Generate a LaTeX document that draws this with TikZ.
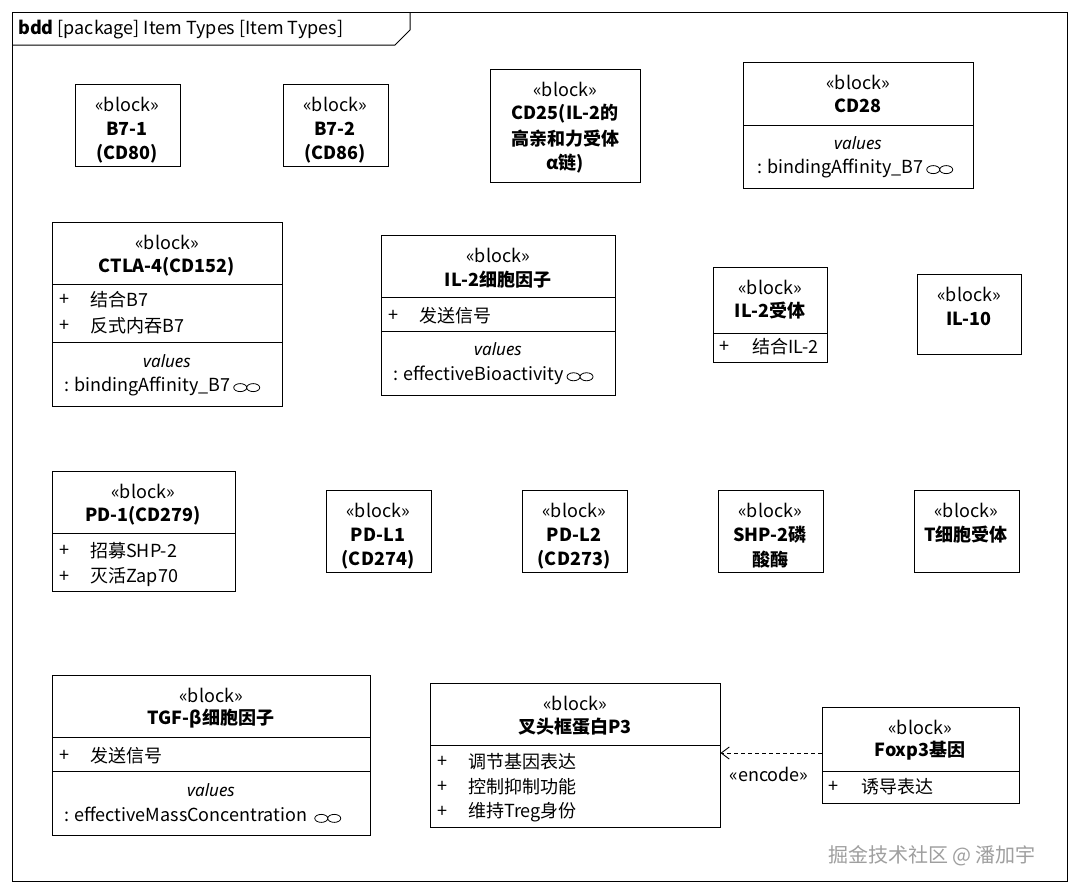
\documentclass[tikz,border=0pt]{standalone}
\usepackage{fontspec}
\setmainfont{Noto Sans CJK SC}
\newfontfamily\latinit{Noto Sans}[UprightFont=* Italic]
\usetikzlibrary{fit,arrows.meta}
\newcommand\oo{\,\tikz[baseline=-0.35ex,x=1pt,y=1pt]{\draw[line width=0.8pt] (6.5,0) ellipse[x radius=6.5,y radius=4] (19.5,0) ellipse[x radius=6.5,y radius=4];}}
\begin{document}
\begin{tikzpicture}[x=1pt,y=-1pt,
  box/.style={draw,line width=1pt,inner sep=0pt},
  t/.style={font=\fontsize{18}{20}\selectfont,inner sep=0pt},
  b/.style={t,font=\fontsize{18}{20}\selectfont\bfseries},
  it/.style={t,font=\fontsize{17}{20}\selectfont\latinit},
  dl/.style={line width=1pt}]
\useasboundingbox (0,0) rectangle (1080,894);
\fill[white] (0,0) rectangle (1080,894);
\draw[line width=1pt] (12,12) rectangle (1067,881);
\draw[line width=1pt] (12,45) -- (395,45) -- (410,30) -- (410,12);
\node[t,anchor=west] (hdr) at (18,30) {\textbf{bdd} [package] Item Types [Item Types]};
% B7-1
\node[box,fit={(75,84) (180,166)}] (b71) {};
\node[t] at (127,104) {«block»};\node[b] at (127,129) {B7-1};\node[b] at (127,154) {(CD80)};
\node[box,fit={(283,84) (388,166)}] (b72) {};
\node[t] at (335,104) {«block»};\node[b] at (335,129) {B7-2};\node[b] at (335,154) {(CD86)};
% CD25
\node[box,fit={(490,69) (640,182)}] (cd25) {};
\node[t] at (565,89) {«block»};\node[b] at (565,114) {CD25(IL-2的};\node[b] at (565,139) {高亲和力受体};\node[b] at (565,164) {α链)};
% CD28
\node[box,fit={(743,62) (973,188)}] (cd28) {};
\node[t] at (858,82) {«block»};\node[b] at (858,106) {CD28};
\draw[dl] (743,125) -- (973,125);
\node[it] at (858,143) {values};\node[t,anchor=west] at (757,168) {: bindingAffinity\_B7\oo};
% CTLA-4
\node[box,fit={(52,222) (282,406)}] (ctla) {};
\node[t] at (167,242) {«block»};\node[b] at (167,267) {CTLA-4(CD152)};
\draw[dl] (52,284) -- (282,284);\draw[dl] (52,342) -- (282,342);
\node[t,anchor=west] at (59,300) {+};\node[t,anchor=west] at (90,300) {结合B7};
\node[t,anchor=west] at (59,326) {+};\node[t,anchor=west] at (90,326) {反式内吞B7};
\node[it] at (167,361) {values};\node[t,anchor=west] at (64,386) {: bindingAffinity\_B7\oo};
% IL-2
\node[box,fit={(381,235) (615,395)}] (il2) {};
\node[t] at (498,255) {«block»};\node[b] at (498,280) {IL-2细胞因子};
\draw[dl] (381,297) -- (615,297);\draw[dl] (381,331) -- (615,331);
\node[t,anchor=west] at (388,316) {+};\node[t,anchor=west] at (419,316) {发送信号};
\node[it] at (498,349) {values};\node[t,anchor=west] at (393,375) {: effectiveBioactivity\oo};
% IL-2 receptor
\node[box,fit={(713,267) (827,362)}] (il2r) {};
\node[t] at (770,287) {«block»};\node[b] at (770,311) {IL-2受体};
\draw[dl] (713,333) -- (827,333);
\node[t,anchor=west] at (719,347) {+};\node[t,anchor=west] at (752,347) {结合IL-2};
% IL-10
\node[box,fit={(917,274) (1021,354)}] (il10) {};
\node[t] at (969,294) {«block»};\node[b] at (969,319) {IL-10};
% PD-1
\node[box,fit={(52,471) (235,591)}] (pd1) {};
\node[t] at (143,491) {«block»};\node[b] at (143,516) {PD-1(CD279)};
\draw[dl] (52,533) -- (235,533);
\node[t,anchor=west] at (59,551) {+};\node[t,anchor=west] at (90,551) {招募SHP-2};
\node[t,anchor=west] at (59,577) {+};\node[t,anchor=west] at (90,577) {灭活Zap70};
% PD-L1, PD-L2, SHP-2, TCR
\node[box,fit={(326,490) (431,572)}] (pdl1) {};
\node[t] at (378,510) {«block»};\node[b] at (378,535) {PD-L1};\node[b] at (378,560) {(CD274)};
\node[box,fit={(522,490) (627,572)}] (pdl2) {};
\node[t] at (574,510) {«block»};\node[b] at (574,535) {PD-L2};\node[b] at (574,560) {(CD273)};
\node[box,fit={(718,490) (823,572)}] (shp2) {};
\node[t] at (770,510) {«block»};\node[b] at (770,535) {SHP-2磷};\node[b] at (770,560) {酸酶};
\node[box,fit={(914,490) (1019,572)}] (tcr) {};
\node[t] at (966,510) {«block»};\node[b] at (966,535) {T细胞受体};
% TGF
\node[box,fit={(52,675) (370,835)}] (tgf) {};
\node[t] at (211,695) {«block»};\node[b] at (211,719) {TGF-β细胞因子};
\draw[dl] (52,737) -- (370,737);\draw[dl] (52,771) -- (370,771);
\node[t,anchor=west] at (59,756) {+};\node[t,anchor=west] at (90,756) {发送信号};
\node[it] at (211,790) {values};\node[t,anchor=west] at (64,815) {: effectiveMassConcentration \oo};
% P3
\node[box,fit={(430,683) (720,827)}] (p3) {};
\node[t] at (575,703) {«block»};\node[b] at (575,727) {叉头框蛋白P3};
\draw[dl] (430,745) -- (720,745);
\node[t,anchor=west] at (437,762) {+};\node[t,anchor=west] at (468,762) {调节基因表达};
\node[t,anchor=west] at (437,787) {+};\node[t,anchor=west] at (468,787) {控制抑制功能};
\node[t,anchor=west] at (437,812) {+};\node[t,anchor=west] at (468,812) {维持Treg身份};
% Foxp3
\node[box,fit={(822,707) (1019,803)}] (foxp3) {};
\node[t] at (920,727) {«block»};\node[b] at (920,751) {Foxp3基因};
\draw[dl] (822,771) -- (1019,771);
\node[t,anchor=west] at (828,787) {+};\node[t,anchor=west] at (861,787) {诱导表达};
\draw[line width=0.9pt,dash pattern=on 4pt off 3pt,-{Straight Barb[length=8pt,width=12pt]}] (foxp3.west |- 0,753) -- (p3.east |- 0,753);
\node[t] (enc) at (769,774) {«encode»};
\node[t,font=\fontsize{20}{22}\selectfont,text=gray!75] (wm) at (932,856) {掘金技术社区 @ 潘加宇};
\end{tikzpicture}
\end{document}
